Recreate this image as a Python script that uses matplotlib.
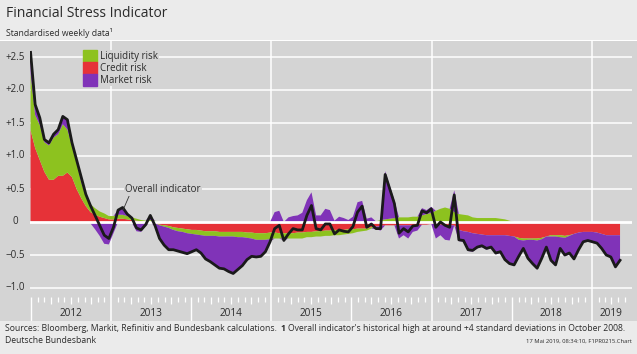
import matplotlib
matplotlib.use("Agg")
import matplotlib.pyplot as plt
import matplotlib.dates as mdates
from matplotlib.patches import Patch, Rectangle
import matplotlib.transforms as mtransforms
import numpy as np
import pandas as pd

plt.rcParams["font.family"] = ["Open Sans", "DejaVu Sans"]

W, H, DPI = 637, 354, 100

HEADER = "#ebebeb"
PANEL = "#d4d4d4"
GREEN = "#8dc21f"
RED = "#e63238"
PURPLE = "#8033b8"
TXT = "#2b2b2b"

# 3-weekly observations, 30 Dec 2011 .. 10 May 2019
dates = pd.date_range("2011-12-30", periods=129, freq="21D")

overall = [
    2.57, 1.78, 1.58, 1.25, 1.20, 1.33, 1.40, 1.60, 1.55, 1.20,
    0.94, 0.68, 0.42, 0.25, 0.10, -0.05, -0.20, -0.25, -0.08, 0.18,
    0.22, 0.12, 0.06, -0.09, -0.12, -0.04, 0.10, -0.05, -0.25, -0.35,
    -0.42, -0.42, -0.44, -0.46, -0.48, -0.45, -0.42, -0.47, -0.56, -0.60,
    -0.65, -0.70, -0.71, -0.75, -0.78, -0.72, -0.66, -0.57, -0.52, -0.53,
    -0.52, -0.45, -0.30, -0.10, -0.05, -0.28, -0.18, -0.10, -0.12, -0.12,
    0.10, 0.25, -0.10, -0.12, -0.03, -0.03, -0.18, -0.12, -0.14, -0.15,
    -0.07, 0.15, 0.24, -0.08, -0.03, -0.10, -0.10, 0.72, 0.50, 0.28,
    -0.17, -0.10, -0.15, -0.06, -0.05, 0.17, 0.14, 0.20, -0.08, 0.00,
    -0.05, -0.08, 0.41, -0.27, -0.28, -0.42, -0.43, -0.38, -0.36, -0.40,
    -0.38, -0.47, -0.45, -0.57, -0.63, -0.65, -0.52, -0.40, -0.55, -0.63,
    -0.70, -0.55, -0.38, -0.58, -0.65, -0.40, -0.50, -0.47, -0.56, -0.42,
    -0.30, -0.28, -0.30, -0.32, -0.40, -0.50, -0.53, -0.68, -0.58,
]
credit = [
    1.39, 1.12, 0.94, 0.76, 0.64, 0.64, 0.70, 0.70, 0.75, 0.68,
    0.50, 0.36, 0.24, 0.15, 0.11, 0.08, 0.06, 0.04, 0.04, 0.05,
    0.05, 0.04, 0.03, 0.02, 0.01, 0.00, 0.00, -0.02, -0.04, -0.05,
    -0.06, -0.08, -0.09, -0.10, -0.11, -0.12, -0.12, -0.13, -0.14, -0.14,
    -0.14, -0.15, -0.15, -0.15, -0.15, -0.15, -0.15, -0.16, -0.16, -0.17,
    -0.17, -0.17, -0.16, -0.16, -0.17, -0.17, -0.17, -0.17, -0.16, -0.16,
    -0.15, -0.15, -0.14, -0.14, -0.13, -0.13, -0.12, -0.12, -0.12, -0.11,
    -0.11, -0.10, -0.10, -0.10, -0.08, -0.07, -0.06, -0.05, -0.05, -0.05,
    -0.05, -0.05, -0.05, -0.05, -0.05, -0.04, -0.04, -0.03, -0.03, -0.04,
    -0.05, -0.05, -0.05, -0.12, -0.14, -0.15, -0.17, -0.18, -0.19, -0.20,
    -0.20, -0.20, -0.20, -0.20, -0.21, -0.22, -0.24, -0.25, -0.25, -0.25,
    -0.25, -0.24, -0.22, -0.20, -0.20, -0.20, -0.21, -0.20, -0.18, -0.16,
    -0.15, -0.15, -0.15, -0.16, -0.18, -0.20, -0.20, -0.20, -0.20,
]
liquidity = [
    0.86, 0.50, 0.53, 0.45, 0.52, 0.64, 0.63, 0.78, 0.65, 0.47,
    0.40, 0.24, 0.15, 0.12, 0.10, 0.08, 0.07, 0.05, 0.05, 0.06,
    0.06, 0.05, 0.04, 0.03, 0.02, 0.02, 0.03, 0.02, -0.01, -0.02,
    -0.03, -0.04, -0.05, -0.05, -0.06, -0.06, -0.07, -0.07, -0.07, -0.07,
    -0.07, -0.07, -0.07, -0.07, -0.07, -0.08, -0.08, -0.08, -0.09, -0.10,
    -0.10, -0.10, -0.10, -0.09, -0.08, -0.08, -0.08, -0.08, -0.09, -0.09,
    -0.08, -0.08, -0.08, -0.08, -0.08, -0.08, -0.08, -0.08, -0.07, -0.07,
    -0.06, -0.05, -0.04, -0.03, -0.02, 0.01, 0.03, 0.04, 0.05, 0.06,
    0.07, 0.07, 0.07, 0.08, 0.08, 0.10, 0.12, 0.14, 0.17, 0.20,
    0.22, 0.20, 0.15, 0.12, 0.11, 0.10, 0.07, 0.06, 0.06, 0.06,
    0.06, 0.06, 0.05, 0.04, 0.02, 0.00, -0.03, -0.03, -0.02, -0.02,
    -0.03, -0.02, 0.00, -0.02, -0.02, -0.03, -0.03, -0.01, 0.01, 0.01,
    0.01, 0.01, 0.00, 0.00, 0.01, 0.00, 0.00, 0.00, 0.00,
]
market = [
    0.32, 0.16, 0.11, 0.04, 0.04, 0.05, 0.07, 0.12, 0.15, 0.05,
    0.04, 0.08, 0.03, -0.02, -0.11, -0.21, -0.33, -0.34, -0.17, 0.07,
    0.11, 0.03, -0.01, -0.14, -0.15, -0.06, 0.07, -0.05, -0.20, -0.28,
    -0.33, -0.30, -0.30, -0.31, -0.31, -0.27, -0.23, -0.27, -0.35, -0.39,
    -0.44, -0.48, -0.49, -0.53, -0.56, -0.49, -0.43, -0.33, -0.27, -0.26,
    -0.25, -0.18, -0.04, 0.15, 0.17, -0.03, 0.07, 0.09, 0.10, 0.14,
    0.33, 0.45, 0.10, 0.10, 0.20, 0.18, 0.02, 0.08, 0.06, 0.03,
    0.08, 0.30, 0.32, 0.05, 0.07, -0.04, -0.07, 0.73, 0.50, 0.27,
    -0.20, -0.15, -0.20, -0.10, -0.08, 0.11, 0.06, 0.09, -0.22, -0.16,
    -0.22, -0.23, 0.33, -0.17, -0.16, -0.29, -0.28, -0.22, -0.19, -0.22,
    -0.20, -0.29, -0.27, -0.38, -0.43, -0.44, -0.27, -0.14, -0.30, -0.38,
    -0.44, -0.30, -0.18, -0.38, -0.45, -0.19, -0.28, -0.28, -0.39, -0.27,
    -0.16, -0.14, -0.15, -0.16, -0.23, -0.30, -0.33, -0.48, -0.38,
]

grid_vals = [2.5, 2.0, 1.5, 1.0, 0.5, -0.5, -1.0]
ytick_vals = [2.5, 2.0, 1.5, 1.0, 0.5, 0.0, -0.5, -1.0]
ytick_labels = ["+2.5", "+2.0", "+1.5", "+1.0", "+0.5", "0", "\u22120.5", "\u22121.0"]
years = [2012, 2013, 2014, 2015, 2016, 2017, 2018, 2019]


def fx(px):
    return px / W


def fy(py):
    return 1 - py / H


def px_to_date(px):
    # 2012-01-01 sits at x=31 px, one year is about 80.1 px
    return pd.Timestamp("2012-01-01") + pd.Timedelta(days=(px - 31) / 80.1 * 365.25)


def py_to_val(py):
    return (222 - py) / 66


fig = plt.figure(figsize=(W / DPI, H / DPI), dpi=DPI, facecolor=HEADER)
fig.add_artist(Rectangle((0, fy(321)), 1, fy(41) - fy(321), transform=fig.transFigure,
                         facecolor=PANEL, edgecolor="none", zorder=-1))
fig.add_artist(Rectangle((0, fy(41)), 1, fy(39.5) - fy(41), transform=fig.transFigure,
                         facecolor="white", edgecolor="none", zorder=-1))

ax = fig.add_axes([fx(30), fy(321), fx(632) - fx(30), fy(41) - fy(321)])
ax.set_axis_off()

# stacked contributions: positives upwards, negatives downwards from zero,
# each layer drawn as its own closed polygon
xn = mdates.date2num(dates)
pos_base = np.zeros(len(dates))
neg_base = np.zeros(len(dates))
for vals, col in [(credit, RED), (liquidity, GREEN), (market, PURPLE)]:
    v = np.array(vals, dtype=float)
    for base, part in [(pos_base, np.clip(v, 0, None)), (neg_base, np.clip(v, None, 0))]:
        top = base + part
        ax.fill(np.concatenate([xn, xn[::-1]]), np.concatenate([top, base[::-1]]),
                color=col, lw=0, zorder=2)
    pos_base = pos_base + np.clip(v, 0, None)
    neg_base = neg_base + np.clip(v, None, 0)

ax.axhline(0, color="white", lw=2.0, zorder=3)
ax.plot(dates, overall, color="#1a1a1a", lw=2.0, zorder=4, solid_joinstyle="round")

# horizontal grid behind the areas
for gv in grid_vals:
    ax.axhline(gv, color="white", lw=1.1, zorder=1)

# year lines every second year, short year / month ticks in between
for yr in years:
    d = pd.Timestamp(f"{yr}-01-01")
    if yr % 2 == 1:
        ax.axvline(d, color="white", lw=1.1, zorder=1)
    else:
        ax.vlines(d, py_to_val(321), py_to_val(297), color="white", lw=1.0, zorder=1)
months = pd.date_range("2012-02-01", "2019-06-01", freq="MS")
for mo in months:
    if mo.month == 1:
        continue
    bottom = 304 if mo.month in (4, 7, 10) else 302
    ax.vlines(mo, py_to_val(bottom), py_to_val(297), color="white", lw=0.9, zorder=1)

ax.set_xlim(px_to_date(30), px_to_date(632))
ax.set_ylim(py_to_val(321), py_to_val(41))

# y labels on the left of the panel
lab_tr = mtransforms.blended_transform_factory(fig.transFigure, ax.transData)
for tv, s in zip(ytick_vals, ytick_labels):
    ax.text(fx(15), tv, s, transform=lab_tr, ha="center", va="center",
            fontsize=7, color=TXT, clip_on=False)

# year labels
for yr in years:
    d = pd.Timestamp(f"{yr}-07-01") if yr < 2019 else pd.Timestamp("2019-04-01")
    ax.text(d, py_to_val(313), str(yr), ha="center", va="center", fontsize=7.2, color=TXT)

leg = ax.legend(handles=[Patch(color=GREEN, label="Liquidity risk"),
                         Patch(color=RED, label="Credit risk"),
                         Patch(color=PURPLE, label="Market risk")],
                loc="upper left", bbox_to_anchor=(fx(83), fy(50)), bbox_transform=fig.transFigure,
                frameon=True, facecolor=PANEL, edgecolor="none", framealpha=1, fancybox=False,
                borderpad=0, borderaxespad=0, labelspacing=0, handlelength=1.45,
                handleheight=1.45, handletextpad=0.35, fontsize=7)
leg.set_zorder(5)
for txt in leg.get_texts():
    txt.set_color(TXT)

ax.annotate("Overall indicator", xy=(px_to_date(123), 0.18),
            xytext=(px_to_date(163), 0.5), ha="center", va="center", fontsize=7, color=TXT,
            bbox=dict(boxstyle="square,pad=0.15", fc=PANEL, ec="none"),
            arrowprops=dict(arrowstyle="-", color="#333333", lw=0.6, relpos=(0.06, 0.0),
                            shrinkA=0, shrinkB=0), zorder=6)

# header
fig.text(fx(6), fy(17), "Financial Stress Indicator", fontsize=10, color=TXT, va="baseline")
fig.text(fx(6), fy(35.5), "Standardised weekly data\u00b9", fontsize=6.2, color=TXT, va="baseline")

# footer
t1 = fig.text(fx(5), fy(333), "Sources: Bloomberg, Markit, Refinitiv and Bundesbank calculations.",
              fontsize=6.2, color=TXT, va="bottom")
t2 = ax.annotate("1", xy=(1, 0), xycoords=t1, xytext=(2.5, 0), textcoords="offset points",
                 fontsize=6.2, fontweight="bold", color=TXT, va="bottom", annotation_clip=False)
ax.annotate("Overall indicator's historical high at around +4 standard deviations in October 2008.",
            xy=(1, 0), xycoords=t2, xytext=(2, 0), textcoords="offset points",
            fontsize=6.2, color=TXT, va="bottom", annotation_clip=False)
fig.text(fx(5), fy(345), "Deutsche Bundesbank", fontsize=6.2, color=TXT, va="bottom")
fig.text(fx(632), fy(344), "17 Mai 2019, 08:34:10, F1PR0215.Chart", fontsize=4.2, color=TXT,
         ha="right", va="bottom")

fig.savefig("out.png", dpi=DPI, facecolor=HEADER)
